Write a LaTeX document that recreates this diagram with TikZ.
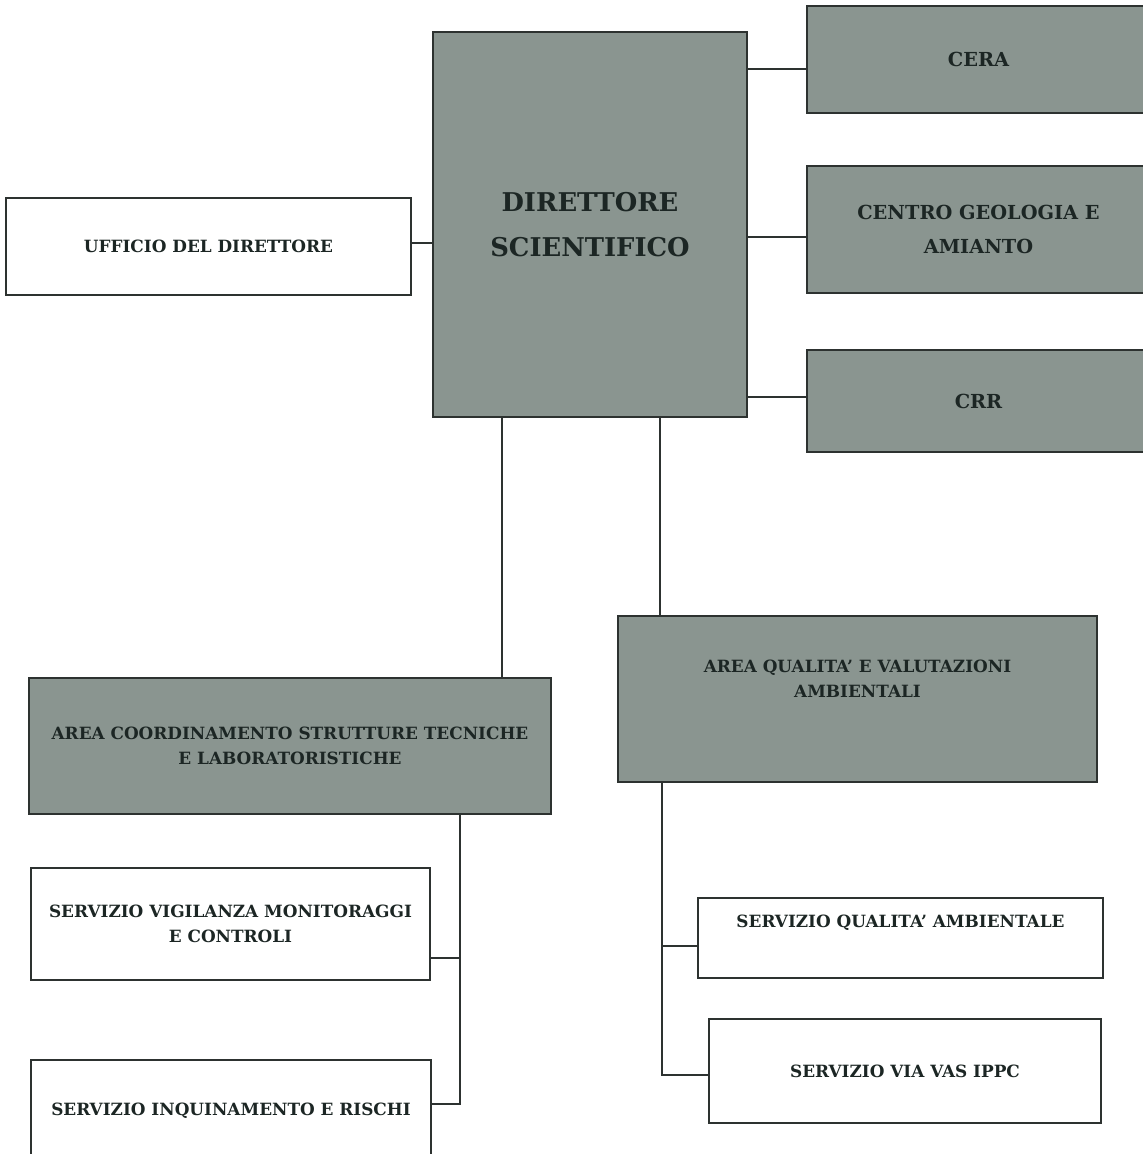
\documentclass[tikz,border=0pt]{standalone}
\usepackage{fontspec}
\setmainfont{DejaVu Serif}
\usetikzlibrary{calc}
\definecolor{boxgray}{RGB}{138,149,144}
\definecolor{inkdark}{RGB}{28,38,36}
\definecolor{edgedark}{RGB}{45,50,48}

\begin{document}
\begin{tikzpicture}[scale = 1,
  gbox/.style = {draw=edgedark, line width=0.9pt, fill=boxgray, text=inkdark, align=center, inner sep=0pt},
  wbox/.style = {draw=edgedark, line width=0.9pt, fill=white, text=inkdark, align=center, inner sep=0pt},
  bigtxt/.style = {font=\bfseries\fontsize{14.7}{25.5}\selectfont},
  midtxt/.style = {font=\bfseries\fontsize{11}{19}\selectfont},
  smalltxt/.style = {font=\bfseries\fontsize{9.6}{14.3}\selectfont, text=inkdark, align=center},
  link/.style = {edgedark, line width=0.8pt}]
\useasboundingbox (0, 0) rectangle (22.86, -23.08);
\node[gbox, bigtxt, minimum width=6.28cm, minimum height=7.70cm] (dir) at (11.80, -4.49){DIRETTORE\\SCIENTIFICO};
\node[gbox, midtxt, minimum width=6.86cm, minimum height=2.14cm] (cera) at (19.57, -1.19){CERA};
\node[gbox, midtxt, minimum width=6.86cm, minimum height=2.54cm] (cgeo) at (19.57, -4.59){CENTRO GEOLOGIA E\\AMIANTO};
\node[gbox, midtxt, minimum width=6.86cm, minimum height=2.04cm] (crr) at (19.57, -8.02){CRR};
\node[wbox, smalltxt, minimum width=8.10cm, minimum height=1.94cm] (uff) at (4.17, -4.93){UFFICIO DEL DIRETTORE};
\node[gbox, smalltxt, minimum width=10.44cm, minimum height=2.72cm] (acst) at (5.80, -14.92){AREA COORDINAMENTO STRUTTURE TECNICHE\\E LABORATORISTICHE};
\node[gbox, minimum width=9.58cm, minimum height=3.32cm] (aqva) at (17.15, -13.98){};
\node[smalltxt] (aqvatxt) at (17.15, -13.58){AREA QUALITA' E VALUTAZIONI\\AMBIENTALI};
\node[wbox, smalltxt, minimum width=7.98cm, minimum height=2.24cm] (svmc) at (4.61, -18.48){SERVIZIO VIGILANZA MONITORAGGI\\E CONTROLI};
\node[wbox, smalltxt, minimum width=8.00cm, minimum height=2.04cm] (sinr) at (4.62, -22.22){SERVIZIO INQUINAMENTO E RISCHI};
\node[wbox, minimum width=8.10cm, minimum height=1.60cm] (sqa) at (18.01, -18.76){};
\node[smalltxt] (sqatxt) at (18.01, -18.46){SERVIZIO QUALITA' AMBIENTALE};
\node[wbox, smalltxt, minimum width=7.84cm, minimum height=2.08cm] (svia) at (18.10, -21.42){SERVIZIO VIA VAS IPPC};
\coordinate (kcera) at ([yshift=-0.19cm]cera.west);
\coordinate (kcgeo) at ([yshift=-0.15cm]cgeo.west);
\coordinate (kcrr) at ([yshift=0.08cm]crr.west);
\coordinate (kuff) at ([yshift=0.07cm]uff.east);
\coordinate (ksvmc) at ([yshift=-0.68cm]svmc.east);
\coordinate (ksinr) at ([yshift=0.14cm]sinr.east);
\coordinate (ksqa) at ([yshift=-0.16cm]sqa.west);
\coordinate (ksvia) at ([yshift=-0.08cm]svia.west);
\coordinate (xacst) at (10.04, 0);
\coordinate (xaqva) at (13.20, 0);
\coordinate (xleft) at (9.20, 0);
\coordinate (xright) at (13.24, 0);
\draw[link] (kcera) -- (kcera -| dir.east);
\draw[link] (kcgeo) -- (kcgeo -| dir.east);
\draw[link] (kcrr) -- (kcrr -| dir.east);
\draw[link] (kuff) -- (kuff -| dir.west);
\draw[link] (dir.south -| xacst) -- (acst.north -| xacst);
\draw[link] (dir.south -| xaqva) -- (aqva.north -| xaqva);
\draw[link] (acst.south -| xleft) |- (ksinr);
\draw[link] (ksvmc) -- (ksvmc -| xleft);
\draw[link] (aqva.south -| xright) |- (ksvia);
\draw[link] (ksqa) -- (ksqa -| xright);
\end{tikzpicture}
\end{document}
